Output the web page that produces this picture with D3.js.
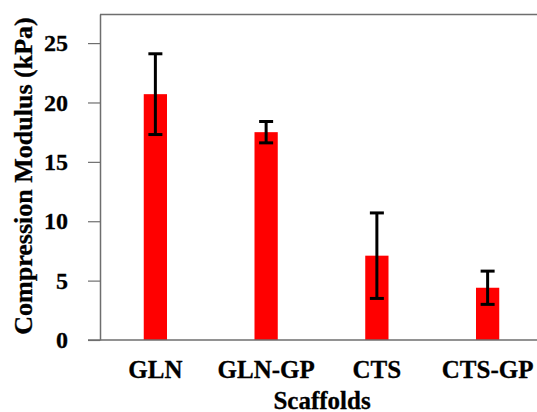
<!DOCTYPE html>
<html>
<head>
<meta charset="utf-8">
<script src="https://cdn.jsdelivr.net/npm/d3@7"></script>
<style>
  body { margin: 0; background: #fff; }
  text { font-family: "Liberation Serif", "Times New Roman", serif; font-weight: bold; fill: #000; stroke: #000; stroke-width: 0.3px; }
</style>
</head>
<body>
<div id="chart"></div>
<script>
const categories = ['GLN', 'GLN-GP', 'CTS', 'CTS-GP'];
const means = [20.7, 17.5, 7.1, 4.4];
const errors = [3.4, 0.9, 3.6, 1.4];
const yTicks = [0, 5, 10, 15, 20, 25];

const width = 537;
const height = 412;
const margin = { top: 14, right: -6, bottom: 72, left: 100 };

const svg = d3.select('#chart')
  .append('svg')
  .attr('width', width)
  .attr('height', height);

const x = d3.scaleBand()
  .domain(categories)
  .range([margin.left, width - margin.right])
  .paddingInner(0.79)
  .paddingOuter(0.395);

const y = d3.scaleLinear()
  .domain([0, 27.45])
  .range([height - margin.bottom, margin.top]);

const data = categories.map((c, i) => ({ name: c, mean: means[i], err: errors[i] }));

// plot frame (top)
svg.append('line')
  .attr('x1', margin.left).attr('x2', width)
  .attr('y1', margin.top + 0.5).attr('y2', margin.top + 0.5)
  .attr('stroke', '#6e6e6e').attr('stroke-width', 1.5);

// bars
svg.selectAll('.bar')
  .data(data)
  .enter()
  .append('rect')
  .attr('class', 'bar')
  .attr('x', d => x(d.name))
  .attr('y', d => y(d.mean))
  .attr('width', x.bandwidth())
  .attr('height', d => y(0) - y(d.mean))
  .attr('fill', '#ff0000');

// error bars
const eb = svg.selectAll('.err')
  .data(data)
  .enter()
  .append('g')
  .attr('class', 'err')
  .attr('stroke', '#000')
  .attr('stroke-width', 3);

const cx = d => x(d.name) + x.bandwidth() / 2;
eb.append('line')
  .attr('x1', cx).attr('x2', cx)
  .attr('y1', d => y(d.mean + d.err))
  .attr('y2', d => y(d.mean - d.err));
eb.append('line')
  .attr('x1', d => cx(d) - 7).attr('x2', d => cx(d) + 7)
  .attr('y1', d => y(d.mean + d.err)).attr('y2', d => y(d.mean + d.err));
eb.append('line')
  .attr('x1', d => cx(d) - 7).attr('x2', d => cx(d) + 7)
  .attr('y1', d => y(d.mean - d.err)).attr('y2', d => y(d.mean - d.err));

// y axis
const yAxis = svg.append('g')
  .attr('transform', `translate(${margin.left},0)`)
  .call(d3.axisLeft(y).tickValues(yTicks).tickSize(12).tickPadding(20).tickSizeOuter(0));
yAxis.select('.domain').attr('stroke', '#6e6e6e').attr('stroke-width', 1.5);
yAxis.selectAll('.tick line').attr('stroke', '#6e6e6e').attr('stroke-width', 1.2);
yAxis.selectAll('.tick text')
  .style('font-size', '24px')
  .style('font-family', '"Liberation Serif", serif')
  .attr('dy', '0.32em');

// x axis
const xAxis = svg.append('g')
  .attr('transform', `translate(0,${y(0)})`)
  .call(d3.axisBottom(x).tickSize(0).tickPadding(20).tickSizeOuter(0));
xAxis.select('.domain').attr('stroke', '#6e6e6e').attr('stroke-width', 1.5)
  .attr('d', `M${margin.left - 12},0H${width}`);
xAxis.selectAll('.tick text')
  .style('font-size', '25px')
  .style('font-family', '"Liberation Serif", serif');

// axis titles
svg.append('text')
  .attr('x', 322)
  .attr('y', 409)
  .attr('text-anchor', 'middle')
  .style('font-size', '25px')
  .text('Scaffolds');

svg.append('text')
  .attr('transform', `translate(32,${(margin.top + y(0)) / 2 - 1}) rotate(-90)`)
  .attr('text-anchor', 'middle')
  .style('font-size', '26px')
  .text('Compression Modulus (kPa)');
</script>
</body>
</html>
